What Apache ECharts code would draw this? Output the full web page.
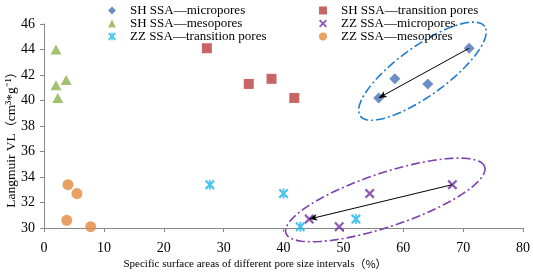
<!DOCTYPE html>
<html>
<head>
<meta charset="utf-8">
<script src="https://cdn.jsdelivr.net/npm/echarts@6/dist/echarts.min.js"></script>
<style>
  html, body { margin: 0; padding: 0; background: #fff; }
  #chart { width: 533px; height: 274px; }
</style>
</head>
<body>
<div id="chart"></div>
<script>
// values
var shMicroX = [55.9, 58.6, 64.1, 71.0];
var shMicroY = [40.2, 41.7, 41.3, 44.1];
var shTransX = [27.2, 34.2, 38.0, 41.8];
var shTransY = [44.1, 41.3, 41.7, 40.2];
var shMesoX = [2.0, 2.0, 3.7, 2.3];
var shMesoY = [44.0, 41.2, 41.6, 40.2];
var zzMicroX = [44.3, 49.3, 54.4, 68.2];
var zzMicroY = [30.7, 30.1, 32.7, 33.4];
var zzTransX = [27.7, 40.0, 42.8, 52.1];
var zzTransY = [33.4, 32.7, 30.1, 30.7];
var zzMesoX = [4.0, 5.5, 3.8, 7.8];
var zzMesoY = [33.4, 32.7, 30.6, 30.1];

// dash-dot ellipses round the two micropore groups (data units: centre, two semi-axes)
var blueEllipse = { c: [63.2, 42.3], u: [10.4, 3.5], v: [-2.3, 1.6] };
var purpleEllipse = { c: [57.0, 32.2], u: [16.6, 2.6], v: [-1.4, 2.0] };

var serif = "'Liberation Serif', 'Times New Roman', serif";
var cjk = "'Noto Sans CJK SC', sans-serif";

function pairs(xs, ys) {
  return xs.map(function (x, i) { return [x, ys[i]]; });
}

// line from the lowest-x point to the highest-x point of a group
function trend(xs, ys) {
  var lo = 0, hi = 0;
  xs.forEach(function (x, i) {
    if (x < xs[lo]) lo = i;
    if (x > xs[hi]) hi = i;
  });
  return [[{ coord: [xs[lo], ys[lo]] }, { coord: [xs[hi], ys[hi]] }]];
}

function arrowLine(xs, ys) {
  return {
    silent: true,
    animation: false,
    symbol: ['arrow', 'none'],
    symbolSize: [5, 8],
    label: { show: false },
    lineStyle: { color: '#000', width: 1, type: 'solid' },
    data: trend(xs, ys)
  };
}

function ellipseSeries(e, color) {
  return {
    type: 'custom',
    silent: true,
    clip: false,
    data: [[e.c[0], e.c[1]]],
    renderItem: function (params, api) {
      var pts = [];
      for (var k = 0; k <= 90; k++) {
        var t = k / 90 * Math.PI * 2;
        pts.push(api.coord([
          e.c[0] + e.u[0] * Math.cos(t) + e.v[0] * Math.sin(t),
          e.c[1] + e.u[1] * Math.cos(t) + e.v[1] * Math.sin(t)
        ]));
      }
      return {
        type: 'polyline',
        shape: { points: pts },
        style: { stroke: color, fill: null, lineWidth: 1.6, lineDash: [9, 3, 2, 3] }
      };
    }
  };
}

var xMark = 'path://M0,1.6L1.6,0L5,3.4L8.4,0L10,1.6L6.6,5L10,8.4L8.4,10L5,6.6L1.6,10L0,8.4L3.4,5Z';
var starMark = xMark + 'M4.2,0L5.8,0L5.8,10L4.2,10Z';

var chart = echarts.init(document.getElementById('chart'));

var legendText = { fontFamily: serif, fontSize: 13, color: '#000', lineHeight: 11.5, padding: [0, 0, 0, 9] };

var option = {
  animation: false,
  backgroundColor: '#fff',
  grid: { left: 44, right: 6, top: 24, bottom: 46 },
  legend: [
    {
      orient: 'vertical', left: 103, top: -1,
      itemWidth: 8, itemHeight: 8, itemGap: 0,
      textStyle: legendText,
      data: ['SH SSA\u2014micropores', 'SH SSA\u2014mesopores', 'ZZ SSA\u2014transition pores']
    },
    {
      orient: 'vertical', left: 314, top: -1,
      itemWidth: 8, itemHeight: 8, itemGap: 0,
      textStyle: legendText,
      data: ['SH SSA\u2014transition pores', 'ZZ SSA\u2014micropores', 'ZZ SSA\u2014mesopores']
    }
  ],
  xAxis: {
    type: 'value', min: 0, max: 80, interval: 10,
    splitLine: { show: false },
    axisLine: { lineStyle: { color: '#888' } },
    axisTick: { show: true, length: 4, lineStyle: { color: '#888' } },
    axisLabel: { fontFamily: serif, fontSize: 14, color: '#000', margin: 13 }
  },
  yAxis: {
    type: 'value', min: 30, max: 46, interval: 2,
    splitLine: { show: false },
    axisLine: { show: true, lineStyle: { color: '#888' } },
    axisTick: { show: true, length: 4, lineStyle: { color: '#888' } },
    axisLabel: { fontFamily: serif, fontSize: 14, color: '#000', margin: 9 }
  },
  graphic: [
    {
      type: 'text', x: 11, y: 137, rotation: Math.PI / 2,
      style: {
        text: '{a|Langmuir VL}{p|\uff08}{a|cm\u00b3*g\u207b\u00b9}{p|\uff09}',
        rich: {
          a: { fontFamily: serif, fontSize: 13.5, fill: '#000' },
          p: { fontFamily: cjk, fontSize: 12, fill: '#000' }
        },
        fill: '#000', align: 'center', verticalAlign: 'middle'
      }
    },
    {
      type: 'text', x: 255, y: 264,
      style: {
        text: '{a|Specific surface areas of different pore size intervals}{p|\uff08%\uff09}',
        rich: {
          a: { fontFamily: serif, fontSize: 11, fill: '#000' },
          p: { fontFamily: cjk, fontSize: 11, fill: '#000' }
        },
        fill: '#000', align: 'center', verticalAlign: 'middle'
      }
    }
  ],
  series: [
    {
      name: 'SH SSA\u2014micropores', type: 'scatter', symbol: 'diamond', symbolSize: 11,
      itemStyle: { color: '#4672B5' }, data: pairs(shMicroX, shMicroY),
      markLine: arrowLine(shMicroX, shMicroY), z: 3
    },
    {
      name: 'SH SSA\u2014transition pores', type: 'scatter', symbol: 'rect', symbolSize: 10,
      itemStyle: { color: '#B9403D' }, data: pairs(shTransX, shTransY)
    },
    {
      name: 'SH SSA\u2014mesopores', type: 'scatter', symbol: 'triangle', symbolSize: [11, 10],
      itemStyle: { color: '#8DB14C' }, data: pairs(shMesoX, shMesoY)
    },
    {
      name: 'ZZ SSA\u2014micropores', type: 'scatter', symbol: xMark, symbolSize: 10,
      itemStyle: { color: '#7030A0' }, data: pairs(zzMicroX, zzMicroY),
      markLine: arrowLine(zzMicroX, zzMicroY), z: 3
    },
    {
      name: 'ZZ SSA\u2014transition pores', type: 'scatter', symbol: starMark, symbolSize: 10,
      itemStyle: { color: '#19B5EE' }, data: pairs(zzTransX, zzTransY)
    },
    {
      name: 'ZZ SSA\u2014mesopores', type: 'scatter', symbol: 'circle', symbolSize: 11,
      itemStyle: { color: '#E48A3C' }, data: pairs(zzMesoX, zzMesoY)
    },
    ellipseSeries(blueEllipse, '#1E7CD0'),
    ellipseSeries(purpleEllipse, '#7D3EAE')
  ]
};

chart.setOption(option);
</script>
</body>
</html>
